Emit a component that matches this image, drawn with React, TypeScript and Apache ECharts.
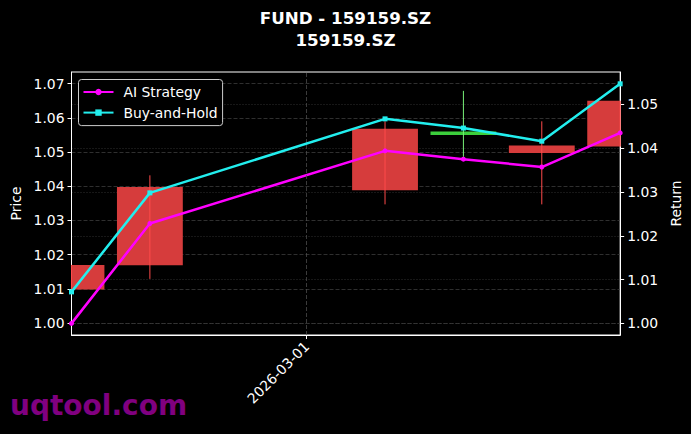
import React, { useEffect, useRef } from "react";
import * as echarts from "echarts";

const dates = ["2026-02-26", "2026-02-27", "2026-03-02", "2026-03-03", "2026-03-04", "2026-03-05"];
const opens = [1.0098, 1.0169, 1.0388, 1.056, 1.0497, 1.0516];
const closes = [1.017, 1.0398, 1.0568, 1.055, 1.0519, 1.065];
const lows = [1.0098, 1.0129, 1.0347, 1.0486, 1.0347, 1.0516];
const highs = [1.017, 1.0432, 1.059, 1.0679, 1.059, 1.065];
const aiStrategy = [1.0, 1.0228, 1.0394, 1.0375, 1.0357, 1.0435];
const buyHold = [1.0072, 1.0298, 1.0467, 1.0446, 1.0416, 1.0547];
const priceTicks = [1.0, 1.01, 1.02, 1.03, 1.04, 1.05, 1.06, 1.07];
const returnTicks = [1.0, 1.01, 1.02, 1.03, 1.04, 1.05];
const xTickDates = ["2026-03-01"];

const DAY = 86400000;
const toTs = (s: string) => {
  const [y, m, d] = s.split("-").map(Number);
  return new Date(y, m - 1, d).getTime();
};
const pad = (n: number) => (n < 10 ? "0" + n : "" + n);
const fmtDate = (v: number) => {
  const d = new Date(v);
  return d.getFullYear() + "-" + pad(d.getMonth() + 1) + "-" + pad(d.getDate());
};

export default function App() {
  const ref = useRef<HTMLDivElement>(null);
  useEffect(() => {
    if (!ref.current) return;
    const chart = echarts.init(ref.current, null, { renderer: "svg" });
    const ts = dates.map(toTs);
    const candleData = ts.map((t, i) => [t, opens[i], closes[i], lows[i], highs[i]]);
    const xTicks = xTickDates.map(toTs);
    const font = "DejaVu Sans";
    const fs = 13.9;
    const option: any = {
      animation: false,
      backgroundColor: "#000000",
      textStyle: { fontFamily: font },
      title: {
        text: "FUND - 159159.SZ",
        subtext: "159159.SZ",
        left: "center",
        top: 4,
        itemGap: 5.3,
        textStyle: { color: "#ffffff", fontSize: 16.7, fontWeight: "bold", fontFamily: font },
        subtextStyle: { color: "#ffffff", fontSize: 16.7, fontWeight: "bold", fontFamily: font },
      },
      legend: {
        data: ["AI Strategy", "Buy-and-Hold"],
        orient: "vertical",
        left: 78.5,
        top: 79.5,
        backgroundColor: "#000000",
        borderColor: "#cccccc",
        borderWidth: 1,
        borderRadius: 3,
        padding: [5.5, 5, 6, 4],
        itemGap: 6.6,
        itemWidth: 30,
        itemHeight: 8,
        textStyle: { color: "#ffffff", fontSize: fs, fontFamily: font, padding: [0, 0, 0, 5] },
      },
      grid: { left: 71.5, right: 70, top: 72, bottom: 99, show: true, borderColor: "#ffffff", borderWidth: 1, backgroundColor: "transparent" },
      xAxis: {
        type: "value",
        min: ts[0],
        max: ts[ts.length - 1],
        axisLine: { show: true, lineStyle: { color: "#ffffff" } },
        axisTick: { show: true, customValues: xTicks, length: 4, lineStyle: { color: "#ffffff" } },
        axisLabel: {
          customValues: xTicks,
          rotate: 45,
          color: "#ffffff",
          fontSize: fs,
          fontFamily: font,
          margin: 9,
          formatter: (v: number) => fmtDate(v),
        },
        splitLine: { show: false },
      },
      yAxis: [
        {
          type: "value",
          name: "Price",
          nameLocation: "middle",
          nameGap: 47,
          nameTextStyle: { color: "#ffffff", fontSize: fs, fontFamily: font },
          min: 0.99649,
          max: 1.07342,
          splitNumber: 7,
          axisLine: { show: true, lineStyle: { color: "#ffffff" } },
          axisTick: { show: true, customValues: priceTicks, length: 4, lineStyle: { color: "#ffffff" } },
          axisLabel: {
            customValues: priceTicks,
            color: "#ffffff",
            fontSize: fs,
            fontFamily: font,
            margin: 7,
            formatter: (v: number) => v.toFixed(2),
          },
          splitLine: { show: true, lineStyle: { color: "#444444", type: [4, 2], width: 0.7 } },
        },
        {
          type: "value",
          name: "Return",
          nameLocation: "middle",
          nameGap: 45,
          nameTextStyle: { color: "#ffffff", fontSize: fs, fontFamily: font },
          position: "right",
          min: 0.99735,
          max: 1.0574,
          splitNumber: 6,
          axisLine: { show: true, lineStyle: { color: "#ffffff" } },
          axisTick: { show: true, customValues: returnTicks, length: 4, lineStyle: { color: "#ffffff" } },
          axisLabel: {
            customValues: returnTicks,
            color: "#ffffff",
            fontSize: fs,
            fontFamily: font,
            margin: 7,
            formatter: (v: number) => v.toFixed(2),
          },
          splitLine: { show: true, lineStyle: { color: "#444444", type: [1, 2], width: 0.7 } },
        },
      ],
      series: [
        {
          type: "custom",
          name: "Candles",
          yAxisIndex: 0,
          z: 2,
          data: candleData,
          encode: { x: 0, y: [1, 2, 3, 4] },
          renderItem: (params: any, api: any) => {
            const x = api.value(0);
            const o = api.value(1);
            const c = api.value(2);
            const l = api.value(3);
            const h = api.value(4);
            const pO = api.coord([x, o]);
            const pC = api.coord([x, c]);
            const pL = api.coord([x, l]);
            const pH = api.coord([x, h]);
            const w = api.size([DAY, 0])[0] * 0.84;
            const up = c >= o;
            const cs = params.coordSys;
            let x0 = pO[0] - w / 2;
            let x1 = pO[0] + w / 2;
            x0 = Math.max(x0, cs.x);
            x1 = Math.min(x1, cs.x + cs.width);
            const top = Math.min(pO[1], pC[1]);
            const hgt = Math.max(Math.abs(pO[1] - pC[1]), 3);
            const bodyColor = up ? "#d63c3c" : "#3ccf3c";
            const wickColor = up ? "#ff4a4a" : "#77f077";
            return {
              type: "group",
              children: [
                { type: "rect", shape: { x: x0, y: top, width: x1 - x0, height: hgt }, style: { fill: bodyColor } },
                {
                  type: "line",
                  shape: { x1: pL[0], y1: pL[1], x2: pH[0], y2: pH[1] },
                  style: { stroke: wickColor, lineWidth: 1 },
                },
              ],
            };
          },
        },
        {
          type: "line",
          name: "AI Strategy",
          yAxisIndex: 1,
          z: 4,
          data: ts.map((t, i) => [t, aiStrategy[i]]),
          symbol: "circle",
          symbolSize: 5,
          lineStyle: { color: "#ff00ff", width: 2.5 },
          itemStyle: { color: "#ff00ff" },
          markLine: {
            silent: true,
            symbol: "none",
            label: { show: false },
            lineStyle: { color: "#555555", type: [4, 2], width: 0.7 },
            data: xTicks.map((t) => ({ xAxis: t })),
          },
        },
        {
          type: "line",
          name: "Buy-and-Hold",
          yAxisIndex: 1,
          z: 5,
          data: ts.map((t, i) => [t, buyHold[i]]),
          symbol: "rect",
          symbolSize: 5,
          lineStyle: { color: "#22eeee", width: 2.5 },
          itemStyle: { color: "#22eeee" },
        },
      ],
      graphic: [
        {
          type: "text",
          left: 10,
          top: 391,
          style: { text: "uqtool.com", fill: "#800080", font: "bold 28px 'DejaVu Sans'" },
        },
      ],
    };
    chart.setOption(option);
    return () => chart.dispose();
  }, []);
  return <div ref={ref} style={{ position: "fixed", left: 0, top: 0, width: 691, height: 434 }} />;
}
